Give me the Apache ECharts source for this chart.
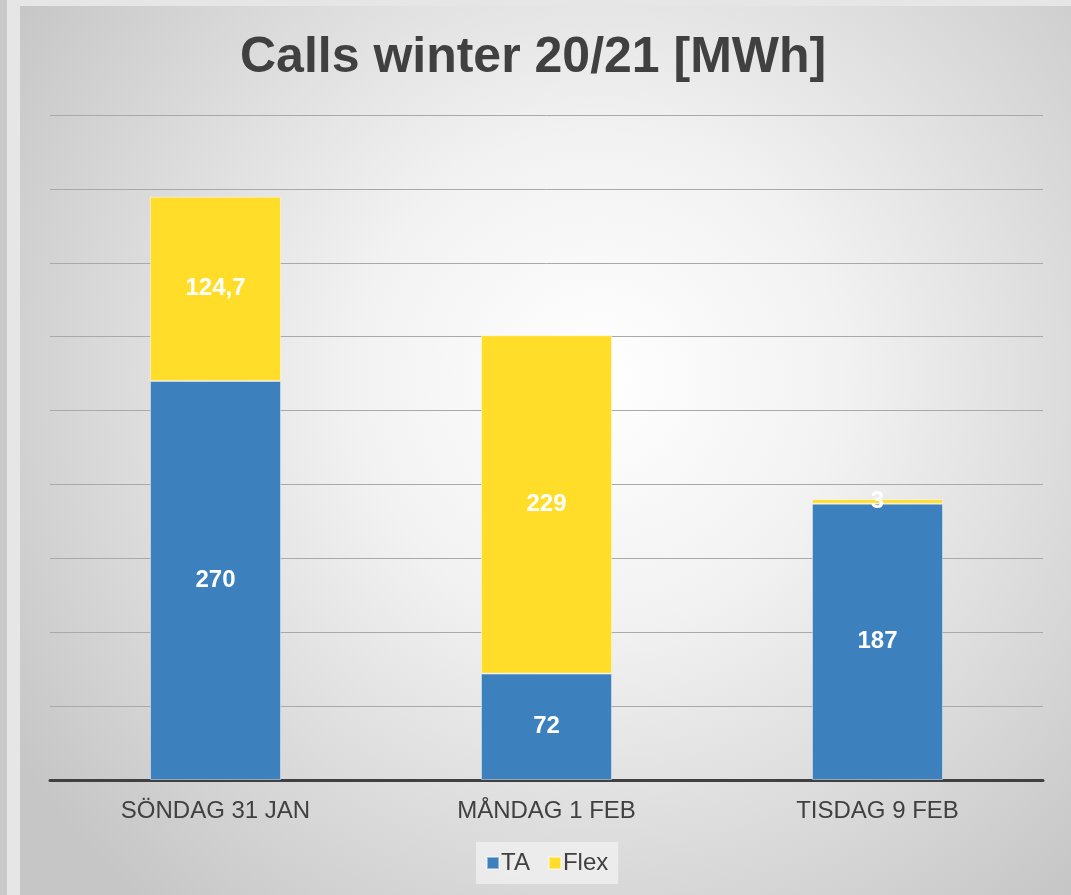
<!DOCTYPE html>
<html>
<head>
<meta charset="utf-8">
<script src="https://cdn.jsdelivr.net/npm/echarts@6/dist/echarts.min.js"></script>
<style>
html,body{margin:0;padding:0;width:1071px;height:895px;overflow:hidden;background:#e6e6e6;}
#strip{position:absolute;left:0;top:0;width:7px;height:895px;background:#c9c9c9;}
#main{position:absolute;left:20px;top:6px;width:1051px;height:889px;box-shadow:inset 1px 1px 1px rgba(0,0,0,0.08);}
</style>
</head>
<body>
<div id="strip"></div>
<div id="main"></div>
<script>
const categories = ['SÖNDAG 31 JAN', 'MÅNDAG 1 FEB', 'TISDAG 9 FEB'];
const taValues = [270, 72, 187];
const flexValues = [124.7, 229, 3];
const seriesNames = ['TA', 'Flex'];

const chart = echarts.init(document.getElementById('main'), null, {renderer: 'canvas'});
const labelFmt = p => String(p.value).replace('.', ',');
chart.setOption({
  backgroundColor: {
    type: 'radial', x: 0.55, y: 0.42, r: 0.78,
    colorStops: [
      {offset: 0, color: '#ffffff'},
      {offset: 0.35, color: '#f2f2f2'},
      {offset: 1, color: '#c6c6c6'}
    ]
  },
  animation: false,
  title: {
    text: 'Calls winter 20/21 [MWh]',
    left: 215, top: 22,
    textStyle: {fontFamily: 'Liberation Sans, Arial', fontSize: 50, fontWeight: 'bold', color: '#404040'}
  },
  legend: {
    data: seriesNames,
    bottom: 11, left: 456,
    itemWidth: 12, itemHeight: 12, itemGap: 18,
    icon: 'rect',
    backgroundColor: 'rgba(240,240,240,0.8)',
    padding: [9, 10],
    textStyle: {fontFamily: 'Liberation Sans, Arial', fontSize: 24, color: '#404040', padding: [0, 0, 0, -3]}
  },
  grid: {left: 30, right: 28, top: 109, bottom: 115, containLabel: false},
  xAxis: {
    type: 'category', data: categories,
    axisLine: {lineStyle: {color: '#404040', width: 3}},
    axisTick: {show: false},
    axisLabel: {fontFamily: 'Liberation Sans, Arial', fontSize: 24, color: '#404040', margin: 19}
  },
  yAxis: {
    type: 'value', min: 0, max: 450, interval: 50,
    axisLine: {show: false}, axisTick: {show: false}, axisLabel: {show: false},
    splitLine: {lineStyle: {color: '#a9a9a9', width: 1}}
  },
  series: [
    {
      name: 'TA', type: 'bar', stack: 'a', data: taValues, barWidth: '39.6%',
      itemStyle: {color: '#3c80bd', borderColor: 'rgba(255,255,255,0.45)', borderWidth: 1},
      label: {show: true, position: 'inside', formatter: labelFmt, color: '#ffffff', fontFamily: 'Liberation Sans, Arial', fontSize: 24, fontWeight: 'bold'}
    },
    {
      name: 'Flex', type: 'bar', stack: 'a', data: flexValues, barWidth: '39.6%',
      itemStyle: {color: '#ffdd28', borderColor: 'rgba(255,255,255,0.45)', borderWidth: 1},
      label: {show: true, position: 'inside', formatter: labelFmt, color: '#ffffff', fontFamily: 'Liberation Sans, Arial', fontSize: 24, fontWeight: 'bold'}
    }
  ]
});
</script>
</body>
</html>
